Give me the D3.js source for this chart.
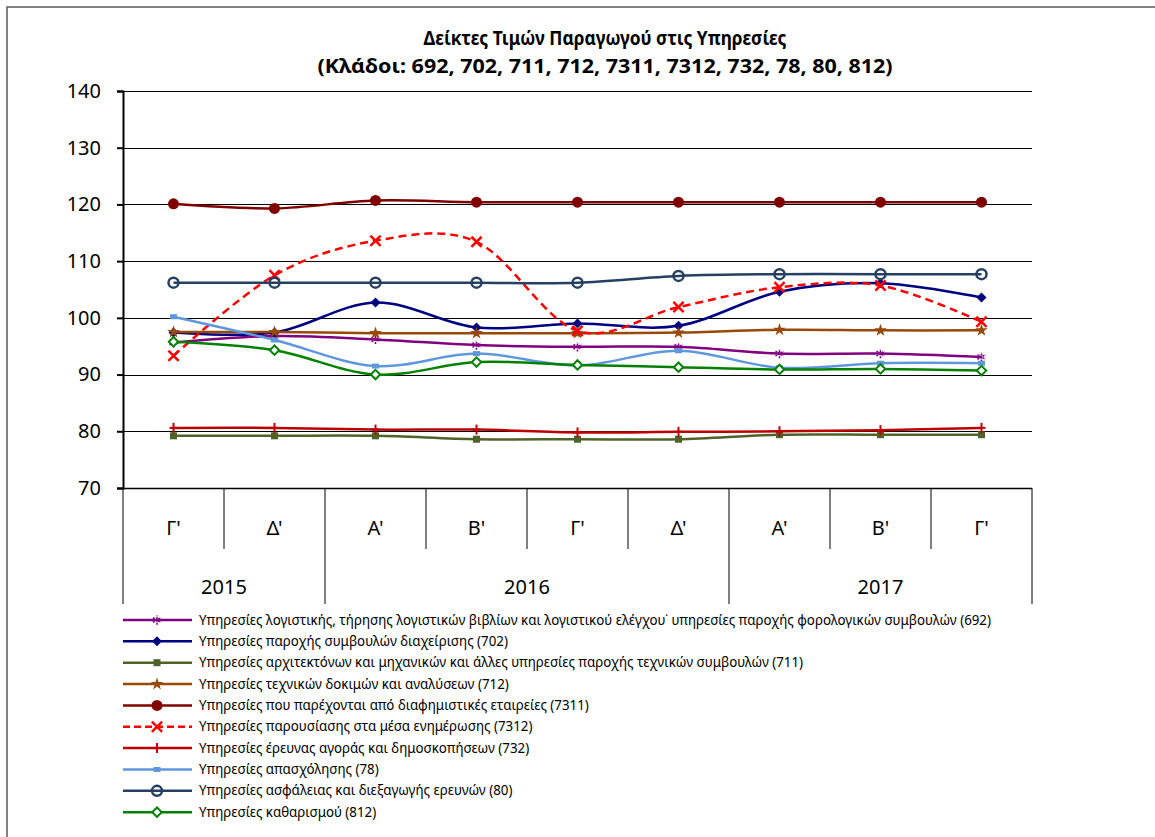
<!DOCTYPE html>
<html>
<head>
<meta charset="utf-8">
<script src="https://cdn.jsdelivr.net/npm/d3@7"></script>
<style>
  body { margin: 0; background: #fff; }
  text { font-family: "Noto Sans", "DejaVu Sans", sans-serif; fill: #000; }
</style>
</head>
<body>
<div id="chart"></div>
<script>
const width = 1155;
const height = 837;

// quarters on the x axis
const quarters = ["Γ'", "Δ'", "Α'", "Β'", "Γ'", "Δ'", "Α'", "Β'", "Γ'"];
const years = [
  {label: "2015", from: 0, to: 2},
  {label: "2016", from: 2, to: 6},
  {label: "2017", from: 6, to: 9}
];
const yTicks = [70, 80, 90, 100, 110, 120, 130, 140];

// series values
const s692 = [95.6, 96.8, 96.2, 95.2, 94.9, 94.9, 93.7, 93.7, 93.1];
const s702 = [97.4, 97.4, 102.7, 98.3, 99.0, 98.6, 104.6, 106.1, 103.6];
const s711 = [79.2, 79.2, 79.2, 78.6, 78.6, 78.6, 79.4, 79.4, 79.4];
const s712 = [97.5, 97.5, 97.3, 97.3, 97.3, 97.4, 97.9, 97.8, 97.8];
const s7311 = [120.1, 119.3, 120.7, 120.4, 120.4, 120.4, 120.4, 120.4, 120.4];
const s7312 = [93.3, 107.5, 113.6, 113.4, 97.7, 101.9, 105.4, 105.7, 99.3];
const s732 = [80.6, 80.6, 80.3, 80.3, 79.8, 79.9, 80.0, 80.2, 80.6];
const s78 = [100.2, 96.1, 91.5, 93.7, 91.6, 94.2, 91.2, 92.0, 92.0];
const s80 = [106.2, 106.2, 106.2, 106.2, 106.2, 107.4, 107.7, 107.7, 107.7];
const s812 = [95.8, 94.3, 90.0, 92.2, 91.7, 91.3, 90.9, 91.0, 90.7];

const series = [
  {name: "Υπηρεσίες λογιστικής, τήρησης λογιστικών βιβλίων και λογιστικού ελέγχου˙ υπηρεσίες παροχής φορολογικών συμβουλών (692)", values: s692, color: "#800080", marker: "asterisk"},
  {name: "Υπηρεσίες παροχής συμβουλών διαχείρισης (702)", values: s702, color: "#000080", marker: "diamond"},
  {name: "Υπηρεσίες αρχιτεκτόνων και μηχανικών και άλλες υπηρεσίες παροχής τεχνικών συμβουλών (711)", values: s711, color: "#4f6228", marker: "square"},
  {name: "Υπηρεσίες τεχνικών δοκιμών και αναλύσεων (712)", values: s712, color: "#984807", marker: "star"},
  {name: "Υπηρεσίες που παρέχονται από διαφημιστικές εταιρείες (7311)", values: s7311, color: "#800000", marker: "circle"},
  {name: "Υπηρεσίες παρουσίασης στα μέσα ενημέρωσης (7312)", values: s7312, color: "#ff0000", marker: "x", dash: "8,5"},
  {name: "Υπηρεσίες έρευνας αγοράς και δημοσκοπήσεων (732)", values: s732, color: "#c00000", marker: "plus"},
  {name: "Υπηρεσίες απασχόλησης (78)", values: s78, color: "#5f97dc", marker: "dash"},
  {name: "Υπηρεσίες ασφάλειας και διεξαγωγής ερευνών (80)", values: s80, color: "#254061", marker: "ocircle"},
  {name: "Υπηρεσίες καθαρισμού (812)", values: s812, color: "#008000", marker: "odiamond"}
];

const plot = {left: 123, right: 1032, top: 91, bottom: 488};

const svg = d3.select("#chart")
    .append("svg")
    .attr("width", width)
    .attr("height", height);

// outer frame (runs off the right / bottom edges)
svg.append("rect")
    .attr("x", 7).attr("y", 7)
    .attr("width", width + 20).attr("height", height + 20)
    .attr("fill", "none")
    .attr("stroke", "#595959")
    .attr("stroke-width", 1.5);

// title
const title = svg.append("g").attr("font-weight", "bold").attr("font-size", 20);
title.append("text")
    .attr("x", 605).attr("y", 45)
    .attr("text-anchor", "middle")
    .attr("textLength", 363).attr("lengthAdjust", "spacingAndGlyphs")
    .text("Δείκτες Τιμών Παραγωγού στις Υπηρεσίες");
title.append("text")
    .attr("x", 605).attr("y", 73)
    .attr("text-anchor", "middle")
    .attr("textLength", 575).attr("lengthAdjust", "spacingAndGlyphs")
    .text("(Κλάδοι: 692, 702, 711, 712, 7311, 7312, 732, 78, 80, 812)");

const x = d3.scaleBand()
    .domain(d3.range(quarters.length))
    .range([plot.left, plot.right])
    .padding(0);
const cx = i => x(i) + x.bandwidth() / 2;

const y = d3.scaleLinear()
    .domain([70, 140])
    .range([plot.bottom, plot.top]);

// gridlines
svg.append("g")
    .selectAll("line")
    .data(yTicks.slice(1))
    .enter().append("line")
    .attr("x1", plot.left).attr("x2", plot.right)
    .attr("y1", d => Math.round(y(d)) + 0.5)
    .attr("y2", d => Math.round(y(d)) + 0.5)
    .attr("stroke", "#000")
    .attr("stroke-width", 1);

// y axis
const yAxis = svg.append("g")
    .attr("transform", `translate(${plot.left},0)`)
    .call(d3.axisLeft(y).tickValues(yTicks).tickSize(6).tickPadding(16));
yAxis.select(".domain").attr("stroke-width", 2);
yAxis.selectAll(".tick line").attr("stroke-width", 2);
yAxis.selectAll("text")
    .attr("font-size", 20)
    .attr("font-family", "Noto Sans, sans-serif")
    .attr("fill", "#000");

// category axis: bottom line, quarter and year boxes
const catAxis = svg.append("g");
catAxis.append("line")
    .attr("x1", plot.left).attr("x2", plot.right)
    .attr("y1", plot.bottom + 0.5).attr("y2", plot.bottom + 0.5)
    .attr("stroke", "#000").attr("stroke-width", 1.5);

const yearEdges = new Set([0, 2, 6, 9]);
catAxis.selectAll("line.div")
    .data(d3.range(quarters.length + 1))
    .enter().append("line")
    .attr("class", "div")
    .attr("x1", k => k === quarters.length ? plot.right : x(k))
    .attr("x2", k => k === quarters.length ? plot.right : x(k))
    .attr("y1", plot.bottom)
    .attr("y2", k => yearEdges.has(k) ? 604 : 549)
    .attr("stroke", "#000")
    .attr("stroke-width", 1);

catAxis.selectAll("text.q")
    .data(quarters)
    .enter().append("text")
    .attr("class", "q")
    .attr("x", (d, i) => cx(i))
    .attr("y", 535)
    .attr("text-anchor", "middle")
    .attr("font-size", 20)
    .text(d => d);

catAxis.selectAll("text.yr")
    .data(years)
    .enter().append("text")
    .attr("class", "yr")
    .attr("x", d => ((d.to === quarters.length ? plot.right : x(d.to)) + x(d.from)) / 2)
    .attr("y", 594)
    .attr("text-anchor", "middle")
    .attr("font-size", 20)
    .text(d => d.label);

// markers
function drawMarker(g, type, color, px, py) {
  const t = `translate(${px},${py})`;
  switch (type) {
    case "circle":
      g.append("circle").attr("cx", px).attr("cy", py).attr("r", 5.5).attr("fill", color);
      break;
    case "ocircle":
      g.append("circle").attr("cx", px).attr("cy", py).attr("r", 5)
          .attr("fill", "none").attr("stroke", color).attr("stroke-width", 2.5);
      break;
    case "diamond":
      g.append("path").attr("transform", t)
          .attr("d", d3.symbol(d3.symbolDiamond2, 64)()).attr("fill", color);
      break;
    case "odiamond":
      g.append("path").attr("transform", t)
          .attr("d", d3.symbol(d3.symbolDiamond2, 56)())
          .attr("fill", "#fff").attr("stroke", color).attr("stroke-width", 2);
      break;
    case "square":
      g.append("rect").attr("x", px - 3.5).attr("y", py - 3.5)
          .attr("width", 7).attr("height", 7).attr("fill", color);
      break;
    case "star":
      g.append("path").attr("transform", t)
          .attr("d", d3.symbol(d3.symbolStar, 50)()).attr("fill", color);
      break;
    case "asterisk":
      g.append("path").attr("transform", t)
          .attr("d", d3.symbol(d3.symbolAsterisk, 60)())
          .attr("fill", "none").attr("stroke", color).attr("stroke-width", 1.6)
          .attr("stroke-dasharray", "2,1");
      break;
    case "x":
      g.append("path").attr("transform", t)
          .attr("d", d3.symbol(d3.symbolTimes, 70)())
          .attr("fill", "none").attr("stroke", color).attr("stroke-width", 2.5);
      break;
    case "plus":
      g.append("line").attr("x1", px).attr("x2", px).attr("y1", py - 5).attr("y2", py + 5)
          .attr("stroke", color).attr("stroke-width", 2);
      g.append("line").attr("x1", px - 4).attr("x2", px + 4).attr("y1", py).attr("y2", py)
          .attr("stroke", color).attr("stroke-width", 2);
      break;
    case "dash":
      g.append("rect").attr("x", px - 3.5).attr("y", py - 2.5)
          .attr("width", 7).attr("height", 5).attr("fill", color);
      break;
  }
}

const line = d3.line()
    .x((d, i) => cx(i))
    .y(d => y(d))
    .curve(d3.curveCardinal.tension(0));

const lines = svg.append("g");
series.forEach(s => {
  const g = lines.append("g");
  g.append("path")
      .attr("d", line(s.values))
      .attr("fill", "none")
      .attr("stroke", s.color)
      .attr("stroke-width", 2.5)
      .attr("stroke-dasharray", s.dash || null);
  s.values.forEach((v, i) => drawMarker(g, s.marker, s.color, cx(i), y(v)));
});

// legend
const legendTop = 620;
const legendStep = 21.35;
const legend = svg.append("g");
series.forEach((s, i) => {
  const ly = legendTop + i * legendStep;
  const g = legend.append("g");
  g.append("line")
      .attr("x1", 123).attr("x2", 192)
      .attr("y1", ly).attr("y2", ly)
      .attr("stroke", s.color).attr("stroke-width", 2.5)
      .attr("stroke-dasharray", s.dash ? "7,4" : null);
  drawMarker(g, s.marker, s.color, 157, ly);
  g.append("text")
      .attr("class", "lt")
      .attr("x", 199).attr("y", ly + 4.5)
      .attr("font-size", 13.5)
      .attr("fill", "#000")
      .text(s.name);
});

// squeeze the legend text to the narrow width of the original font
const legendTexts = legend.selectAll("text.lt");
const longest = d3.max(legendTexts.nodes(), n => n.getComputedTextLength());
const ratio = Math.min(1, 792 / longest);
legendTexts.each(function () {
  const w = this.getComputedTextLength();
  d3.select(this).attr("textLength", w * ratio).attr("lengthAdjust", "spacingAndGlyphs");
});
</script>
</body>
</html>
